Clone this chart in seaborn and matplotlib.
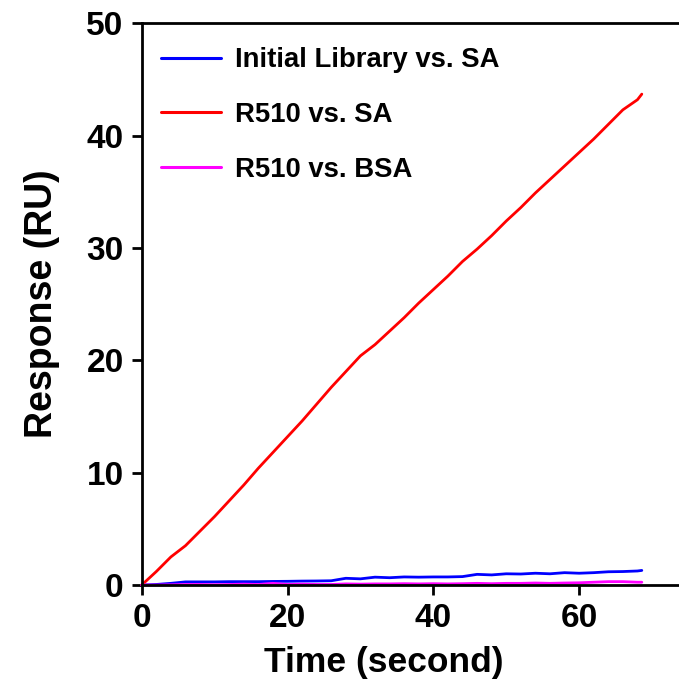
import pandas as pd
import seaborn as sns
import matplotlib
matplotlib.use('Agg')
import matplotlib.pyplot as plt

# temps (s) commun aux trois courbes
time_s = [0, 2, 4, 6, 8, 10, 12, 14, 16, 18, 20, 22, 24, 26, 28, 30, 32, 34,
          36, 38, 40, 42, 44, 46, 48, 50, 52, 54, 56, 58, 60, 62, 64, 66, 68, 68.6]

# réponses (RU)
init_lib_sa = [0.0, 0.05, 0.15, 0.28, 0.28, 0.28, 0.3, 0.3, 0.3, 0.32, 0.33, 0.35, 0.36, 0.38,
               0.6, 0.55, 0.7, 0.65, 0.72, 0.7, 0.72, 0.72, 0.75, 0.95, 0.9, 1.0, 0.98, 1.05,
               1.0, 1.1, 1.05, 1.1, 1.18, 1.2, 1.25, 1.3]
r510_sa = [0.0, 1.2, 2.5, 3.5, 4.8, 6.1, 7.5, 8.9, 10.4, 11.8, 13.2, 14.6, 16.1, 17.6,
           19.0, 20.4, 21.4, 22.6, 23.8, 25.1, 26.3, 27.5, 28.8, 29.9, 31.1, 32.4, 33.6,
           34.9, 36.1, 37.3, 38.5, 39.7, 41.0, 42.3, 43.2, 43.7]
r510_bsa = [0.0, 0.0, 0.02, 0.05, 0.05, 0.03, 0.05, 0.08, 0.05, 0.15, 0.05, 0.08, 0.05, 0.05,
            0.1, 0.08, 0.1, 0.1, 0.12, 0.1, 0.12, 0.1, 0.12, 0.15, 0.12, 0.15, 0.15, 0.18,
            0.15, 0.18, 0.2, 0.25, 0.3, 0.3, 0.25, 0.25]

labels = ['Initial Library vs. SA', 'R510 vs. SA', 'R510 vs. BSA']
couleurs = ['#0000ff', '#ff0000', '#ff00ff']

df = pd.concat([
    pd.DataFrame({'t': time_s, 'rep': init_lib_sa, 'serie': labels[0]}),
    pd.DataFrame({'t': time_s, 'rep': r510_sa, 'serie': labels[1]}),
    pd.DataFrame({'t': time_s, 'rep': r510_bsa, 'serie': labels[2]}),
])

sns.set_style('ticks', {'axes.edgecolor': 'black', 'text.color': 'black',
                        'xtick.color': 'black', 'ytick.color': 'black',
                        'axes.labelcolor': 'black'})
plt.rcParams['font.family'] = ['Liberation Sans', 'DejaVu Sans']
plt.rcParams['font.weight'] = 'bold'

fig = plt.figure(figsize=(6.79, 6.84), dpi=100)
ax = fig.add_axes([0.2087, 0.1447, 0.7913, 0.8212])

sns.lineplot(data=df, x='t', y='rep', hue='serie', hue_order=labels,
             palette=dict(zip(labels, couleurs)), estimator=None, sort=False,
             linewidth=2.0, ax=ax)
for l in ax.lines:
    l.set_clip_on(False)

ax.set_xlim(0, 73.7)
ax.set_ylim(0, 50)
ax.set_xticks([0, 20, 40, 60])
ax.set_yticks([0, 10, 20, 30, 40, 50])

for s in ['left', 'bottom', 'top']:
    ax.spines[s].set_linewidth(2)
    ax.spines[s].set_color('black')
ax.spines['right'].set_visible(False)
ax.tick_params(axis='both', width=2, length=7, pad=6, labelsize=24, top=False,
               colors='black')
for lab in ax.get_xticklabels() + ax.get_yticklabels():
    lab.set_fontweight('bold')

ax.set_xlabel('Time (second)', fontsize=25.5, fontweight='bold')
ax.set_ylabel('Response (RU)', fontsize=27, fontweight='bold')
ax.xaxis.set_label_coords(0.451, -0.108)
ax.yaxis.set_label_coords(-0.152, 0.5)

leg = ax.legend(loc='upper left', bbox_to_anchor=(0.035, 0.957), frameon=False,
                fontsize=19.8, handlelength=2.2, handletextpad=0.52,
                labelspacing=1.04, borderpad=0, borderaxespad=0)
for t in leg.get_texts():
    t.set_fontweight('bold')
    t.set_color('black')
for h in leg.get_lines():
    h.set_linewidth(2.2)

plt.savefig('out.png', dpi=100)
